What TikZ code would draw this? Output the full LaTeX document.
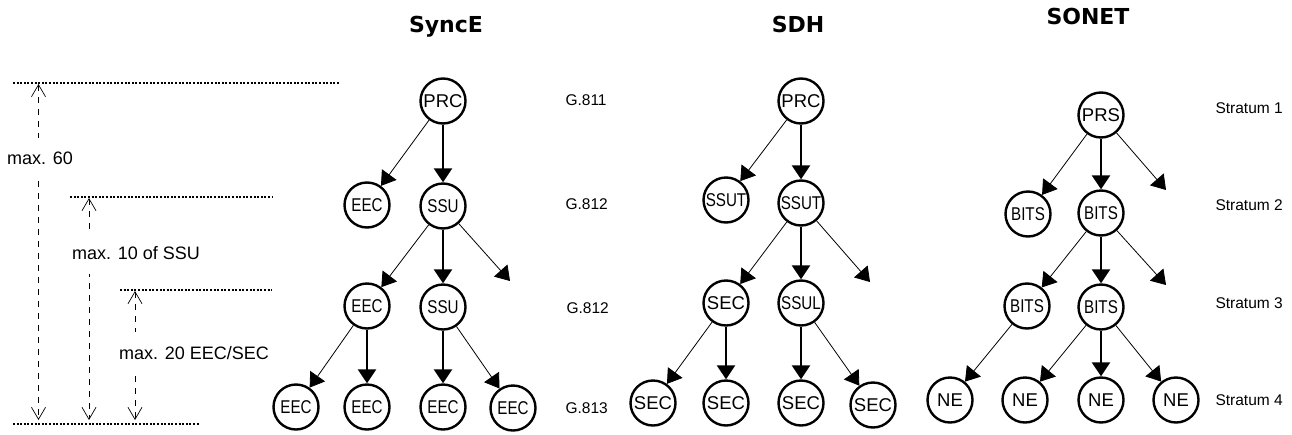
\documentclass[tikz,border=0pt]{standalone}
\usepackage{fontspec}
\setmainfont{Liberation Sans}
\newfontfamily\titlefont{DejaVu Sans}
\usetikzlibrary{arrows.meta}
\newcommand{\narrowtext}[1]{\scalebox{0.82}[1]{#1}}

\begin{document}
\begin{tikzpicture}[x=1pt, y=-1pt]
        % Define styles
        \tikzstyle{clock}=[circle, draw, fill=white, line width=2.4pt, minimum size=45pt, inner sep=0pt, font=\fontsize{18.5}{20}\selectfont]
        \tikzstyle{level}=[anchor=west, font=\fontsize{15.5}{17}\selectfont]
        \tikzstyle{title}=[font=\titlefont\bfseries\fontsize{22}{24}\selectfont]
        \tikzstyle{main}=[-{Triangle[width=18pt,length=14pt]}, line width=2.5pt]
        \tikzstyle{side}=[-{Triangle[width=18pt,length=14pt]}, line width=0.8pt]
        \tikzstyle{guide}=[dash pattern=on 2pt off 1.6pt, line width=1.2pt]
        \tikzstyle{span}=[{Straight Barb[width=14pt,length=12pt]}-{Straight Barb[width=14pt,length=12pt]}, dash pattern=on 6pt off 6pt, line width=0.7pt]
        \tikzstyle{spanlabel}=[fill=white, inner xsep=0pt, inner ysep=14pt, font=\fontsize{18}{20}\selectfont]

        \useasboundingbox (0,0) rectangle (1292,434);

        % Titles
        \node[title] (synce) at (446,27) {SyncE};
        \node[title] (sdh) at (798,24) {SDH};
        \node[title] (sonet) at (1088,16) {SONET};

        % Hop limits on the left
        \draw[guide] (13,83) -- (340,83);
        \draw[guide] (70,197) -- (272,197);
        \draw[guide] (120,290) -- (272,290);
        \draw[guide] (13,424) -- (200,424);
        \coordinate (spanAtop) at (38.5,84);
        \coordinate (spanAbot) at (38.5,420);
        \coordinate (spanBtop) at (89,198);
        \coordinate (spanBbot) at (89,420);
        \coordinate (spanCtop) at (135,291);
        \coordinate (spanCbot) at (135,420);
        \draw[span] (spanAtop) -- (spanAbot);
        \draw[span] (spanBtop) -- (spanBbot);
        \draw[span] (spanCtop) -- (spanCbot);
        \node[spanlabel] (maxall) at (40,158) {max. 60};
        \node[spanlabel, anchor=west] (maxssu) at (72,253) {max. 10 of SSU};
        \node[spanlabel, anchor=west] (maxsec) at (119,353) {max. 20 EEC/SEC};

        % SyncE tree
        \node[clock] (prcA) at (443,101) {PRC};
        \node[clock] (eecA) at (367,205) {\narrowtext{EEC}};
        \node[clock] (ssuA) at (443,206) {\narrowtext{SSU}};
        \node[clock] (eecB) at (367,306) {\narrowtext{EEC}};
        \node[clock] (ssuB) at (443,307) {\narrowtext{SSU}};
        \node[clock] (eecC) at (296,407) {\narrowtext{EEC}};
        \node[clock] (eecD) at (367,407) {\narrowtext{EEC}};
        \node[clock] (eecE) at (443,407) {\narrowtext{EEC}};
        \node[clock] (eecF) at (513,408) {\narrowtext{EEC}};
        \coordinate (synceopen) at (510,281);
        \node[level] (gA) at (562,100) {G.811};
        \node[level] (gB) at (562,204) {G.812};
        \node[level] (gC) at (563,308) {G.812};
        \node[level] (gD) at (562,408) {G.813};

        \draw[side] (prcA) -- (eecA);
        \draw[main] (prcA) -- (ssuA);
        \draw[side] (ssuA) -- (eecB);
        \draw[main] (ssuA) -- (ssuB);
        \draw[side] (ssuA) -- (synceopen);
        \draw[side] (eecB) -- (eecC);
        \draw[main] (eecB) -- (eecD);
        \draw[main] (ssuB) -- (eecE);
        \draw[side] (ssuB) -- (eecF);

        % SDH tree
        \node[clock] (prcB) at (801,101) {PRC};
        \node[clock] (ssutA) at (726,200) {\narrowtext{SSUT}};
        \node[clock] (ssutB) at (801,203) {\narrowtext{SSUT}};
        \node[clock] (secA) at (726,303) {SEC};
        \node[clock] (ssul) at (801,303) {\narrowtext{SSUL}};
        \node[clock] (secB) at (653,403) {SEC};
        \node[clock] (secC) at (726,403) {SEC};
        \node[clock] (secD) at (801,403) {SEC};
        \node[clock] (secE) at (873,405) {SEC};
        \coordinate (sdhopen) at (870,282);

        \draw[side] (prcB) -- (ssutA);
        \draw[main] (prcB) -- (ssutB);
        \draw[side] (ssutB) -- (secA);
        \draw[main] (ssutB) -- (ssul);
        \draw[side] (ssutB) -- (sdhopen);
        \draw[side] (secA) -- (secB);
        \draw[main] (secA) -- (secC);
        \draw[main] (ssul) -- (secD);
        \draw[side] (ssul) -- (secE);

        % SONET tree
        \node[clock] (prs) at (1101,115) {PRS};
        \node[clock] (bitsA) at (1028,214) {\narrowtext{BITS}};
        \node[clock] (bitsB) at (1101,213) {\narrowtext{BITS}};
        \node[clock] (bitsC) at (1027,306) {\narrowtext{BITS}};
        \node[clock] (bitsD) at (1101,307) {\narrowtext{BITS}};
        \node[clock] (neA) at (950,400) {NE};
        \node[clock] (neB) at (1025,400) {NE};
        \node[clock] (neC) at (1101,400) {NE};
        \node[clock] (neD) at (1176,400) {NE};
        \coordinate (sonetopenA) at (1166,190);
        \coordinate (sonetopenB) at (1166,285);
        \node[level] (stA) at (1212,108) {Stratum 1};
        \node[level] (stB) at (1212,205) {Stratum 2};
        \node[level] (stC) at (1212,303) {Stratum 3};
        \node[level] (stD) at (1212,400) {Stratum 4};

        \draw[side] (prs) -- (bitsA);
        \draw[main] (prs) -- (bitsB);
        \draw[side] (prs) -- (sonetopenA);
        \draw[side] (bitsB) -- (bitsC);
        \draw[main] (bitsB) -- (bitsD);
        \draw[side] (bitsB) -- (sonetopenB);
        \draw[side] (bitsC) -- (neA);
        \draw[side] (bitsD) -- (neB);
        \draw[main] (bitsD) -- (neC);
        \draw[side] (bitsD) -- (neD);

    \end{tikzpicture}
\end{document}
